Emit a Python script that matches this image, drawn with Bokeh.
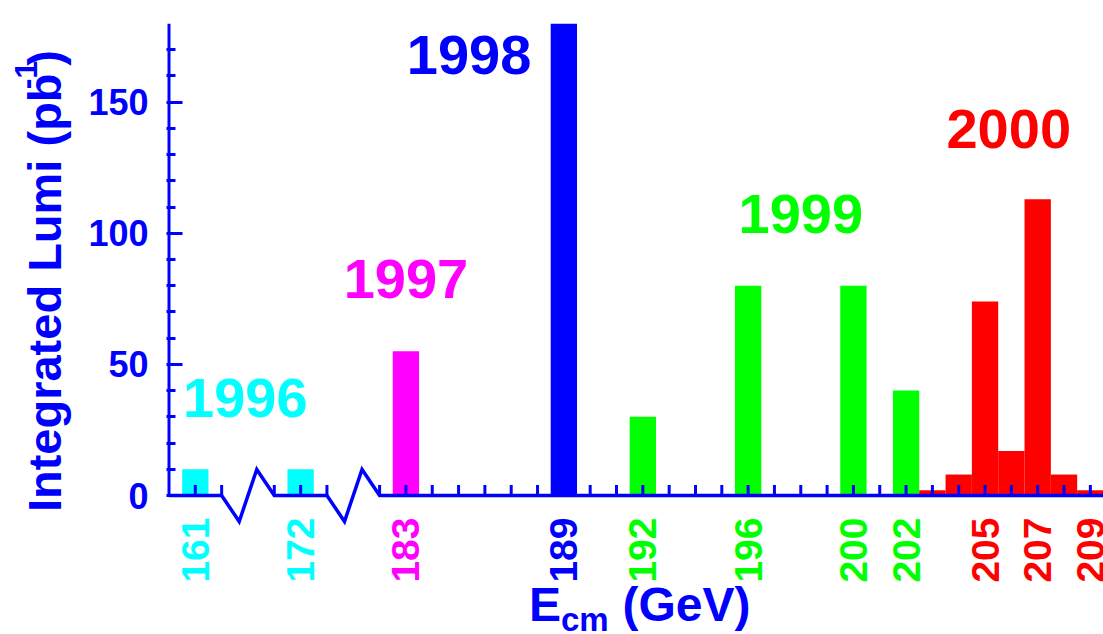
import math
from bokeh.plotting import figure
from bokeh.layouts import row
from bokeh.models import FixedTicker, Range1d
from bokeh.core.properties import value
from bokeh.embed import file_html
from bokeh.resources import INLINE

# ---------------- data ----------------
energies = [161, 172, 183, 189, 192, 196, 200, 202, 203, 204, 205, 206, 207, 208, 209]
lumi     = [10, 10, 55, 180, 30, 80, 80, 40, 2, 8, 74, 17, 113, 8, 2]
run_year = [1996, 1996, 1997, 1998, 1999, 1999, 1999, 1999,
            2000, 2000, 2000, 2000, 2000, 2000, 2000]

tick_energies = [161, 172, 183, 189, 192, 196, 200, 202, 205, 207, 209]
tick_years    = [1996, 1996, 1997, 1998, 1999, 1999, 1999, 1999, 2000, 2000, 2000]

years       = [1996, 1997, 1998, 1999, 2000]
year_text_x = [176.9, 183.0, 185.4, 198.0, 205.9]
year_text_y = [37.2, 82.4, 167.8, 107.4, 139.6]

y_major = [0, 50, 100, 150]
y_minor = [10, 20, 30, 40, 60, 70, 80, 90, 110, 120, 130, 140, 160, 170]

# broken energy axis: 161 and 172 GeV are drawn compressed before 183 GeV
axis_pos = {161: 175, 172: 179}
breaks = [(176, 178), (180, 182)]
axis_start, axis_end = 174, 209.5

# ---------------- style / layout ----------------
BLUE = "#0000FF"
year_colors = {1996: "#00FFFF", 1997: "#FF00FF", 1998: "#0000FF",
               1999: "#00FF00", 2000: "#FF0000"}
FONT = value("Liberation Sans")

H = 634
WL = 80                      # width of the y-title strip
WR = 1103 - WL               # width of the chart
FRAME_LEFT_PAGE, FRAME_TOP_PAGE = 166, 23
X0, X1 = 173.905, axis_end
Y1 = 180
PX_PER_Y = 472 / 180.0
Y0 = Y1 - (H - FRAME_TOP_PAGE) / PX_PER_Y
PX_PER_X = (1103 - FRAME_LEFT_PAGE) / (X1 - X0)


def cx(page_x):
    return X0 + (page_x - FRAME_LEFT_PAGE) / PX_PER_X


def cy(page_y):
    return Y1 - (page_y - FRAME_TOP_PAGE) / PX_PER_Y


# Arial/Liberation Sans Bold advance widths (1/1000 em)
AW = {'I': 278, 'n': 611, 't': 333, 'e': 556, 'g': 611, 'r': 389, 'a': 556,
      'd': 611, ' ': 278, 'L': 611, 'u': 611, 'm': 889, 'i': 278, '(': 333,
      'p': 611, 'b': 611, ')': 333, '-': 333, '1': 556}


def tw(s, size):
    return sum(AW[c] for c in s) * size / 1000.0


pos = [axis_pos.get(e, e) for e in energies]
bar_colors = [year_colors[y] for y in run_year]
tick_pos = [axis_pos.get(e, e) for e in tick_energies]
tick_colors = [year_colors[y] for y in tick_years]

# ---------------- main chart ----------------
p = figure(width=WR, height=H, x_range=Range1d(X0, X1), y_range=Range1d(Y0, Y1),
           output_backend="svg", toolbar_location=None, x_axis_location=None,
           min_border_left=FRAME_LEFT_PAGE - WL, min_border_right=0,
           min_border_top=FRAME_TOP_PAGE, min_border_bottom=0)
p.outline_line_color = None
p.grid.visible = False
p.background_fill_color = "white"
p.border_fill_color = "white"

ax = p.yaxis[0]
ax.ticker = FixedTicker(ticks=y_major, minor_ticks=y_minor)
ax.axis_line_color = None
ax.major_tick_in = 16
ax.major_tick_out = 0
ax.minor_tick_in = 9
ax.minor_tick_out = 0
ax.major_tick_line_color = BLUE
ax.minor_tick_line_color = BLUE
ax.major_tick_line_width = 3
ax.minor_tick_line_width = 3
ax.major_label_text_font = "Liberation Sans"
ax.major_label_text_font_size = "36px"
ax.major_label_text_font_style = "bold"
ax.major_label_text_color = BLUE
ax.major_label_standoff = 18

# bars
p.vbar(x=pos, top=lumi, bottom=0, width=1.0, fill_color=bar_colors, line_color=None)

# y axis line
p.segment(x0=[axis_start], y0=[0], x1=[axis_start], y1=[Y1], line_color=BLUE, line_width=3)

# x axis line with break zig-zags
amp = 26 / PX_PER_Y
xs, ys = [axis_start], [0]
for a, b in breaks:
    d = (b - a) / 3.0
    xs += [a, a + d, a + 2 * d, b]
    ys += [0, -amp, amp, 0]
xs.append(axis_end)
ys.append(0)
p.line(xs, ys, line_color=BLUE, line_width=3.5, line_join="miter")

# x ticks
in_break = lambda v: any(a < v < b for a, b in breaks)
xticks = [v for v in range(axis_start + 1, int(axis_end) + 1) if not in_break(v)]
tick_len = 10.5 / PX_PER_Y
p.segment(x0=xticks, y0=[0] * len(xticks), x1=xticks, y1=[tick_len] * len(xticks),
          line_color=BLUE, line_width=3)

# x tick labels
p.text(x=tick_pos, y=[cy(517)] * len(tick_pos), text=[str(e) for e in tick_energies],
       angle=math.pi / 2, text_align="right", text_baseline="middle",
       text_color=tick_colors, text_font=FONT, text_font_style="bold",
       text_font_size="39px")

# year labels
p.text(x=year_text_x, y=year_text_y, text=[str(y) for y in years],
       text_align="center", text_baseline="middle",
       text_color=[year_colors[y] for y in years], text_font=FONT,
       text_font_style="bold", text_font_size="56px")

# x axis title: E_cm (GeV)
p.text(x=[cx(528.5)], y=[cy(604)], text=["E"], text_align="left",
       text_baseline="middle", text_color=BLUE, text_font=FONT,
       text_font_style="bold", text_font_size="48px")
p.text(x=[cx(560.5)], y=[cy(619)], text=["cm"], text_align="left",
       text_baseline="middle", text_color=BLUE, text_font=FONT,
       text_font_style="bold", text_font_size="33px")
p.text(x=[cx(622)], y=[cy(604)], text=["(GeV)"], text_align="left",
       text_baseline="middle", text_color=BLUE, text_font=FONT,
       text_font_style="bold", text_font_size="48px")

# ---------------- y-title strip ----------------
q = figure(width=WL, height=H, x_range=Range1d(0, WL), y_range=Range1d(0, H),
           output_backend="svg", toolbar_location=None,
           x_axis_location=None, y_axis_location=None,
           min_border_left=0, min_border_right=0, min_border_top=0, min_border_bottom=0)
q.outline_line_color = None
q.grid.visible = False
q.background_fill_color = "white"
q.border_fill_color = "white"

main_txt, sup_txt = "Integrated Lumi (pb", "-1"
y_start = 507
w_main = tw(main_txt, 47)
w_sup = tw(sup_txt, 32)
for txt, px, py, size in [(main_txt, 44, y_start, 47),
                          (sup_txt, 25, y_start - w_main, 32),
                          (")", 44, y_start - w_main - w_sup + 4, 47)]:
    q.text(x=[px], y=[H - py], text=[txt], angle=math.pi / 2,
           text_align="left", text_baseline="middle",
           text_color=BLUE, text_font=FONT, text_font_style="bold",
           text_font_size=f"{size}px")

layout = row(q, p, spacing=0)
open("out.html", "w").write(file_html(layout, INLINE))
